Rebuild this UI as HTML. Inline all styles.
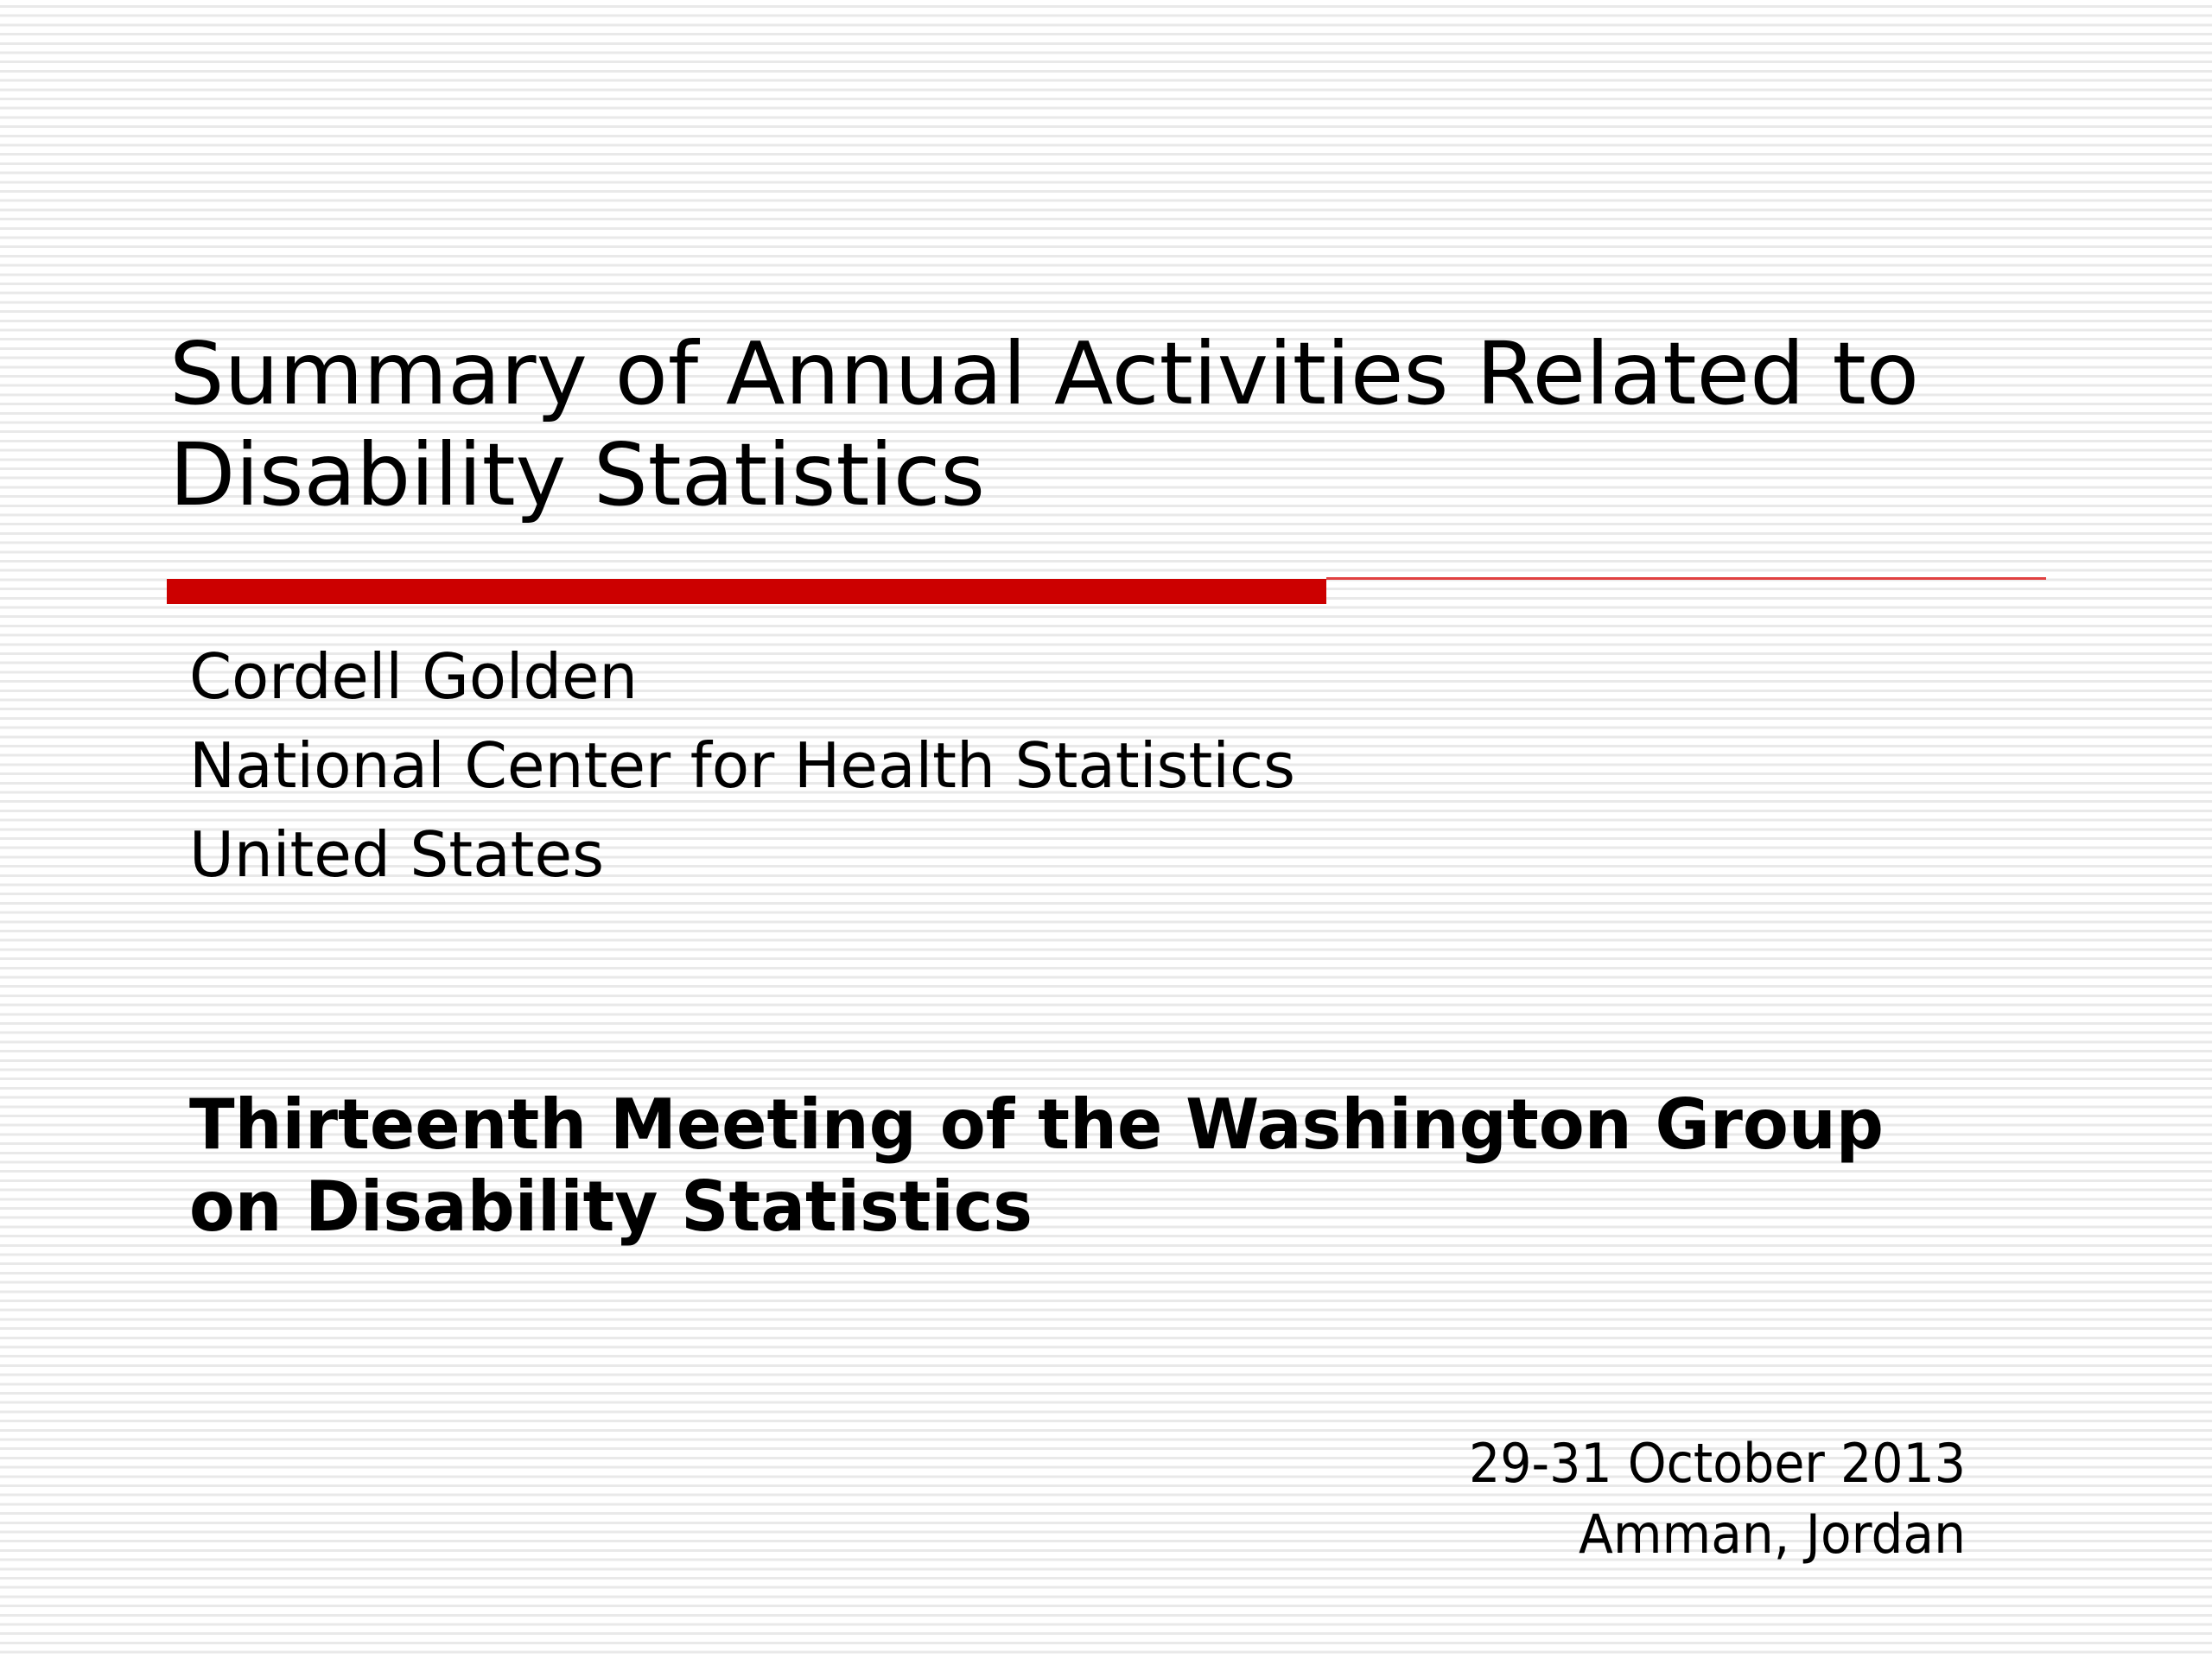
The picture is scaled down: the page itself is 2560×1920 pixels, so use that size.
<!DOCTYPE html>
<html><head><meta charset="utf-8"><style>
html,body{margin:0;padding:0;width:2560px;height:1920px;overflow:hidden}
body{background:#fff repeating-linear-gradient(to bottom,#fff 0,#fff 6px,#e9e9e9 6px,#e9e9e9 9px,#fff 9px,#fff 10.7px)}
svg{position:absolute;left:0;top:0}
</style></head><body>
<svg width="2560" height="1920" viewBox="0 0 2560 1920" font-family="'DejaVu Sans','Liberation Sans',sans-serif" fill="#000">
<text x="196" y="467" font-size="100" textLength="2025" lengthAdjust="spacingAndGlyphs">Summary of Annual Activities Related to</text>
<text x="196" y="584" font-size="100" textLength="944" lengthAdjust="spacingAndGlyphs">Disability Statistics</text>
<rect x="193" y="670" width="1342" height="29" fill="#cc0000"/>
<rect x="1535" y="668" width="833" height="3" fill="#e04040"/>
<text x="219" y="808" font-size="72" textLength="519" lengthAdjust="spacingAndGlyphs">Cordell Golden</text>
<text x="219" y="911" font-size="72" textLength="1280" lengthAdjust="spacingAndGlyphs">National Center for Health Statistics</text>
<text x="219" y="1014" font-size="72" textLength="480" lengthAdjust="spacingAndGlyphs">United States</text>
<text x="219" y="1329" font-size="80" font-weight="bold" textLength="1961" lengthAdjust="spacingAndGlyphs">Thirteenth Meeting of the Washington Group</text>
<text x="219" y="1424" font-size="80" font-weight="bold" textLength="976" lengthAdjust="spacingAndGlyphs">on Disability Statistics</text>
<text x="1700" y="1715" font-size="62" textLength="575" lengthAdjust="spacingAndGlyphs">29-31 October 2013</text>
<text x="1827" y="1797" font-size="62" textLength="448" lengthAdjust="spacingAndGlyphs">Amman, Jordan</text>
</svg>
</body></html>
